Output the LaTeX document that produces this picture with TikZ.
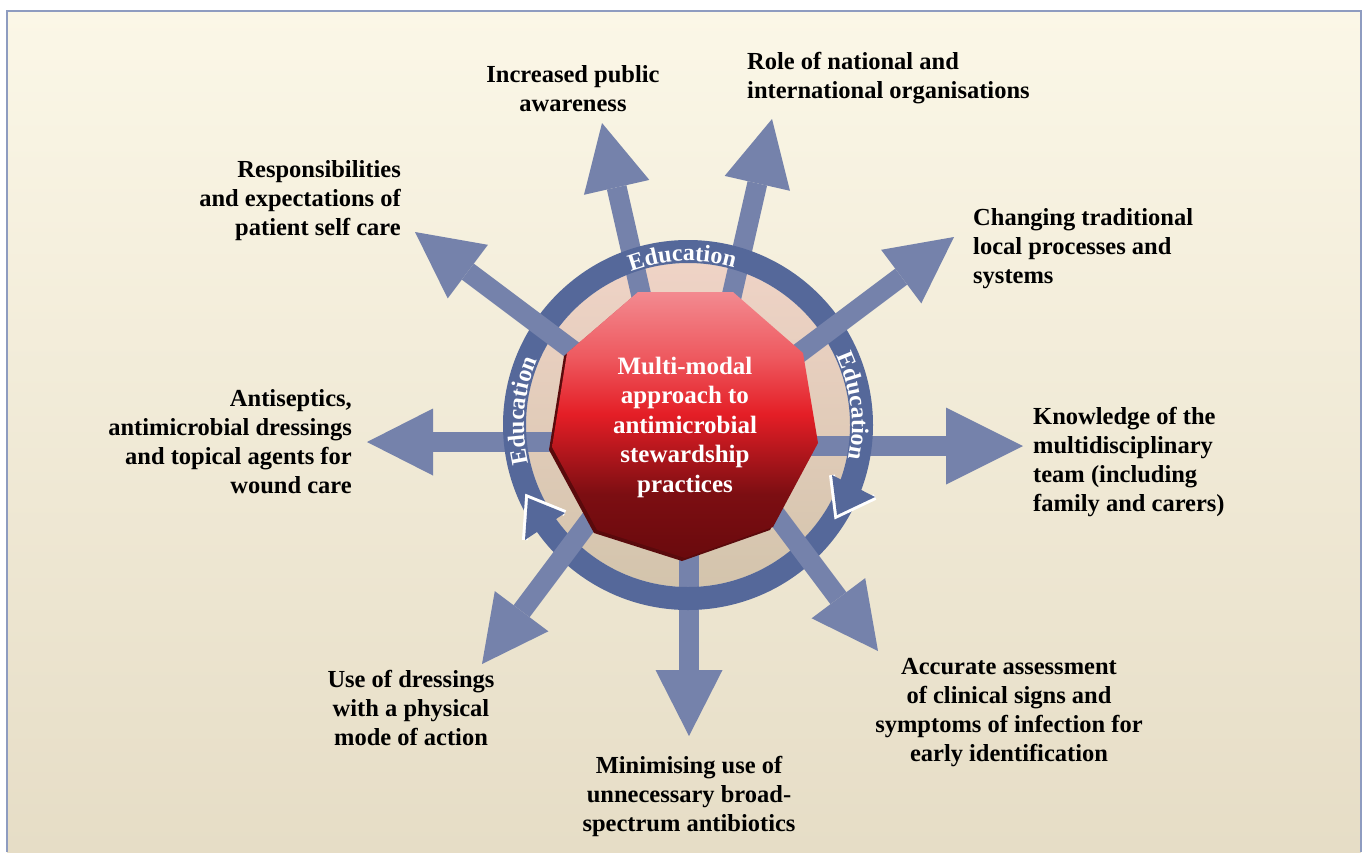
\documentclass[tikz,border=0pt]{standalone}
\usepackage{fontspec}
\setmainfont{Liberation Serif}
\usetikzlibrary{arrows.meta,decorations.text}

\definecolor{spokeblue}{HTML}{7582AB}
\definecolor{ringblue}{HTML}{55689A}
\definecolor{frameblue}{HTML}{8E9CC0}
\definecolor{bgtop}{HTML}{FBF7E7}
\definecolor{bgmid}{HTML}{F8EFD3}
\definecolor{bgbot}{HTML}{E6DDC6}
\definecolor{disktop}{HTML}{EFD3C6}
\definecolor{diskbot}{HTML}{D3C4AC}
\definecolor{octtop}{HTML}{F38A90}
\definecolor{octlight}{HTML}{EE5A60}
\definecolor{octmid}{HTML}{E41E26}
\definecolor{octdark}{HTML}{7C0E12}
\definecolor{octbot}{HTML}{6A0A0D}
\definecolor{octshadow}{HTML}{5A0A0C}

\pgfdeclareverticalshading{octshade}{100bp}{color(0bp)=(octbot); color(25bp)=(octbot);
  color(37bp)=(octdark); color(52bp)=(octmid); color(63bp)=(octlight);
  color(75bp)=(octtop); color(100bp)=(octtop)}

\begin{document}
\begin{tikzpicture}[x=1pt, y=-1pt, font=\bfseries\fontsize{24.5}{29}\selectfont]

  \tikzstyle{spoke}=[draw=spokeblue, line width=20pt,
    -{Triangle[length=66pt, width=67pt, line width=0pt]}]
  \tikzstyle{bigspoke}=[spoke,
    -{Triangle[length=77pt, width=77pt, line width=0pt]}]
  \tikzstyle{outtext}=[inner sep=0pt, align=center]
  \tikzstyle{educ}=[decorate, decoration={text along path,
    text align=center, text color=white,
    text={|\bfseries\fontsize{24}{24}\selectfont|Education}}]

  \useasboundingbox (0,0) rectangle (1365,852);
  \shade[top color=bgtop, middle color=bgmid, bottom color=bgbot]
    (7,11) rectangle (1361,852);
  \draw[frameblue, line width=2pt] (7,852) -- (7,11) -- (1361,11) -- (1361,852);

  \coordinate (hub) at (688,425);
  \shade[top color=disktop, bottom color=diskbot] (hub) circle[radius=162];

  % spokes: start (s) and tip (t)
  \coordinate (s1) at (645,312); \coordinate (t1) at (602,123);
  \coordinate (s2) at (728,312); \coordinate (t2) at (772,119);
  \coordinate (s3) at (770,375); \coordinate (t3) at (954,237);
  \coordinate (s4) at (700,446); \coordinate (t4) at (1023,446);
  \coordinate (s5) at (758,491); \coordinate (t5) at (878,651);
  \coordinate (s6) at (689,430); \coordinate (t6) at (689,736);
  \coordinate (s7) at (602,504); \coordinate (t7) at (482,664);
  \coordinate (s8) at (680,442); \coordinate (t8) at (367,442);
  \coordinate (s9) at (599,370); \coordinate (t9) at (415,232);

  \draw[spoke] (s1) -- (t1);
  \draw[spoke] (s2) -- (t2);
  \draw[bigspoke] (s4) -- (t4);
  \draw[spoke] (s6) -- (t6);
  \draw[spoke] (s8) -- (t8);

  \draw[ringblue, line width=23pt] (hub) circle[radius=173.5];

  \draw[spoke] (s3) -- (t3);
  \draw[spoke] (s5) -- (t5);
  \draw[spoke] (s7) -- (t7);
  \draw[spoke] (s9) -- (t9);

  % arrowheads on the ring
  \coordinate (ltip) at (528,498); \coordinate (lb1) at (565,513); \coordinate (lb2) at (525,540);
  \coordinate (rtip) at (837,515); \coordinate (rb1) at (875,497); \coordinate (rb2) at (832,475);
  \draw[white, line width=6pt, line join=miter] (lb1) -- (ltip) -- (lb2);
  \fill[ringblue] (lb1) -- (ltip) -- (lb2) -- cycle;
  \draw[white, line width=6pt, line join=miter] (rb1) -- (rtip) -- (rb2);
  \fill[ringblue] (rb1) -- (rtip) -- (rb2) -- cycle;

  \path[educ] (hub) ++(238:164) arc[start angle=238, end angle=298, radius=164];
  \path[educ] (hub) ++(155:164) arc[start angle=155, end angle=215, radius=164];
  \path[educ] (hub) ++(-36.5:164) arc[start angle=-36.5, end angle=23.5, radius=164];

  \fill[octshadow, xshift=-3pt, yshift=-3pt] (638,292) -- (733,292) -- (803,353)
    -- (818,443) -- (773,527) -- (685,558) -- (597,530) -- (552,447) -- (567,353) -- cycle;
  \shade[shading=octshade] (638,292)
    -- (733,292) -- (803,353) -- (818,443) -- (773,527) -- (685,558) -- (597,530)
    -- (552,447) -- (567,353) -- cycle;

  \node[outtext, text=white, font=\bfseries\fontsize{25}{29.5}\selectfont] (approach)
    at (685,427) {Multi-modal\\approach to\\antimicrobial\\stewardship\\practices};

  \node[outtext] (awareness) at (573,89) {Increased public\\awareness};
  \node[outtext, align=left, anchor=west] (organisations) at (747,78)
    {Role of national and\\international organisations};
  \node[outtext, align=right, anchor=east] (selfcare) at (401,201)
    {Responsibilities\\and expectations of\\patient self care};
  \node[outtext, align=left, anchor=west] (processes) at (973,249)
    {Changing traditional\\local processes and\\systems};
  \node[outtext, align=left, anchor=west] (team) at (1033,462)
    {Knowledge of the\\multidisciplinary\\team (including\\family and carers)};
  \node[outtext, align=right, anchor=east] (antiseptics) at (352,442)
    {Antiseptics,\\antimicrobial dressings\\and topical agents for\\wound care};
  \node[outtext] (assessment) at (1009,713)
    {Accurate assessment\\of clinical signs and\\symptoms of infection for\\early identification};
  \node[outtext] (physical) at (411,708) {Use of dressings\\with a physical\\mode of action};
  \node[outtext] (broadspectrum) at (689,796)
    {Minimising use of\\unnecessary broad-\\spectrum antibiotics};

\end{tikzpicture}
\end{document}
